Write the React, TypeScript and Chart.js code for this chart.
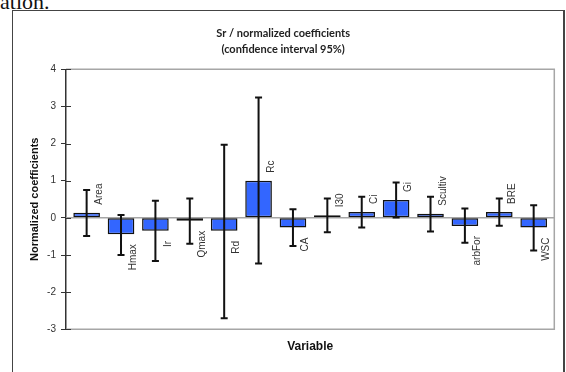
import React, { useEffect, useRef } from "react";
import { Chart, registerables } from "chart.js";

Chart.register(...registerables);

const categories = ["Area", "Hmax", "Ir", "Qmax", "Rd", "Rc", "CA", "I30", "Ci", "Gi", "Scultiv", "arbFor", "BRE", "WSC"];
const coefficients = [0.14, -0.44, -0.35, -0.08, -0.35, 1.0, -0.26, 0.07, 0.16, 0.48, 0.11, -0.22, 0.16, -0.26];
const lowerBounds = [-0.49, -1.0, -1.16, -0.7, -2.7, -1.23, -0.76, -0.39, -0.26, 0.01, -0.37, -0.67, -0.21, -0.88];
const upperBounds = [0.75, 0.08, 0.46, 0.52, 1.97, 3.24, 0.23, 0.52, 0.57, 0.95, 0.57, 0.25, 0.52, 0.34];
const yTicks = [-3, -2, -1, 0, 1, 2, 3, 4];
const titleLines = ["Sr / normalized coefficients", "(confidence interval 95%)"];
const yTitle = "Normalized coefficients";
const xTitle = "Variable";

const ARIAL = "'Liberation Sans', Arial, sans-serif";

const overlayPlugin = {
  id: "overlay",
  beforeDatasetsDraw(chart: any) {
    const { ctx, chartArea: a } = chart;
    const ys = chart.scales.y;
    ctx.save();
    ctx.strokeStyle = "#a6a6a6";
    ctx.lineWidth = 1.5;
    ctx.beginPath();
    ctx.moveTo(a.left, a.top);
    ctx.lineTo(a.right, a.top);
    ctx.lineTo(a.right, a.bottom);
    ctx.lineTo(a.left, a.bottom);
    const y0 = ys.getPixelForValue(0);
    ctx.moveTo(a.left, y0);
    ctx.lineTo(a.right, y0);
    ctx.stroke();
    ctx.restore();
  },
  afterDatasetsDraw(chart: any) {
    const { ctx, chartArea: a } = chart;
    const xs = chart.scales.x;
    const ys = chart.scales.y;
    ctx.save();
    // inner half of y tick marks
    ctx.strokeStyle = "#333";
    ctx.lineWidth = 1;
    ctx.beginPath();
    ys.ticks.forEach((t: any) => {
      const y = Math.round(ys.getPixelForValue(t.value)) + 0.5;
      ctx.moveTo(a.left, y);
      ctx.lineTo(a.left + 5, y);
    });
    ctx.stroke();
    // error bars
    ctx.strokeStyle = "#111";
    ctx.lineWidth = 2;
    ctx.beginPath();
    categories.forEach((_, i) => {
      const x = xs.getPixelForValue(i);
      const yl = ys.getPixelForValue(lowerBounds[i]);
      const yh = ys.getPixelForValue(upperBounds[i]);
      ctx.moveTo(x, yh);
      ctx.lineTo(x, yl);
      ctx.moveTo(x - 3.5, yh);
      ctx.lineTo(x + 3.5, yh);
      ctx.moveTo(x - 3.5, yl);
      ctx.lineTo(x + 3.5, yl);
    });
    ctx.stroke();
    // data labels (rotated)
    ctx.fillStyle = "#333";
    ctx.font = "10px " + ARIAL;
    ctx.textBaseline = "middle";
    categories.forEach((c, i) => {
      const x = xs.getPixelForValue(i) + 12.5;
      const v = coefficients[i];
      const yEnd = ys.getPixelForValue(v);
      ctx.save();
      if (v >= 0) {
        ctx.translate(x, yEnd - 8);
        ctx.rotate(-Math.PI / 2);
        ctx.textAlign = "left";
      } else {
        ctx.translate(x, yEnd + 10);
        ctx.rotate(-Math.PI / 2);
        ctx.textAlign = "right";
      }
      ctx.fillText(c, 0, 0);
      ctx.restore();
    });
    ctx.restore();
  },
};

export default function App() {
  const canvasRef = useRef<HTMLCanvasElement | null>(null);

  useEffect(() => {
    if (!canvasRef.current) return;
    const chart = new Chart(canvasRef.current, {
      type: "bar",
      data: {
        datasets: [
          {
            label: "coefficients",
            data: categories.map((_, i) => ({ x: i, y: coefficients[i] })),
            backgroundColor: "#3366ff",
            borderColor: "#111",
            borderWidth: 1.5,
            borderSkipped: false,
            categoryPercentage: 0.88,
            barPercentage: 0.88,
          } as any,
        ],
      },
      options: {
        animation: false,
        responsive: false,
        devicePixelRatio: 1,
        layout: { padding: { top: 25, left: 12, right: 11.7, bottom: 0 } },
        plugins: {
          legend: { display: false },
          tooltip: { enabled: false },
          title: {
            display: true,
            text: titleLines,
            color: "#222",
            font: { family: "Lato, 'Open Sans', sans-serif", weight: "bold", size: 11, lineHeight: 1.4545 },
            padding: { top: 0, bottom: 12.3 },
          },
        },
        scales: {
          x: {
            type: "linear",
            min: -0.6,
            max: 13.6,
            offset: false,
            bounds: "data",
            afterBuildTicks: (s: any) => {
              s.ticks = categories.map((_, i) => ({ value: i }));
            },
            ticks: { display: false },
            grid: { display: false, drawTicks: false, offset: false },
            border: { display: false },
            title: {
              display: true,
              text: xTitle,
              color: "#111",
              font: { family: ARIAL, weight: "bold", size: 12 },
              padding: { top: 0, bottom: 18 },
            },
            afterFit: (s: any) => {
              s.height = 42.7;
            },
          },
          y: {
            min: -3,
            max: 4,
            afterBuildTicks: (s: any) => {
              s.ticks = yTicks.map((v) => ({ value: v }));
            },
            ticks: {
              color: "#333",
              font: { family: ARIAL, size: 10 },
              padding: 5,
            },
            grid: {
              display: true,
              drawOnChartArea: false,
              drawTicks: true,
              tickLength: 5,
              tickColor: "#333",
              tickWidth: 1,
            },
            border: { display: true, color: "#333", width: 1.5 },
            title: {
              display: true,
              text: yTitle,
              color: "#111",
              font: { family: ARIAL, weight: "bold", size: 11 },
              padding: { top: 16, bottom: 0 },
            },
            afterFit: (s: any) => {
              s.width = 54;
            },
          },
        },
      } as any,
      plugins: [overlayPlugin],
    });
    return () => chart.destroy();
  }, []);

  return (
    <div style={{ position: "fixed", left: 0, top: 0, width: 566, height: 372, overflow: "hidden", background: "#fff" }}>
      <div
        style={{
          position: "absolute",
          left: 0,
          top: -9,
          fontFamily: "'Liberation Serif', 'DejaVu Serif', serif",
          fontSize: 22,
          lineHeight: "22px",
          color: "#111",
          whiteSpace: "nowrap",
        }}
      >
        ation.
      </div>
      <div
        style={{
          position: "absolute",
          left: 12,
          top: 10,
          width: 550,
          height: 400,
          borderLeft: "1px solid #444",
          borderTop: "1px solid #444",
          borderRight: "2px solid #444",
        }}
      />
      <canvas
        ref={canvasRef}
        width={566}
        height={372}
        style={{ position: "absolute", left: 0, top: 0, width: 566, height: 372, display: "block" }}
      />
    </div>
  );
}
